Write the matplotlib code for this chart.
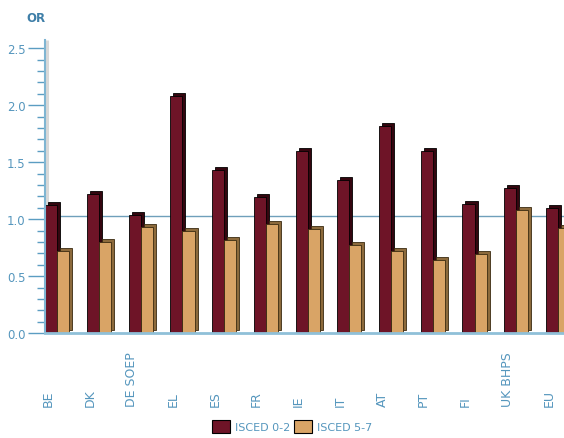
import numpy as np
import matplotlib
matplotlib.use("Agg")
import matplotlib.pyplot as plt
import matplotlib.transforms as mtransforms
from matplotlib.patches import Patch

countries = ["BE", "DK", "DE SOEP", "EL", "ES", "FR", "IE", "IT", "AT", "PT", "FI", "UK BHPS", "EU"]
isced_02 = [1.12, 1.22, 1.04, 2.08, 1.43, 1.19, 1.60, 1.34, 1.82, 1.60, 1.13, 1.27, 1.10]
isced_57 = [0.72, 0.80, 0.93, 0.90, 0.82, 0.96, 0.91, 0.77, 0.72, 0.64, 0.69, 1.08, 0.92]
ref_level = 1.0

maroon = "#6e1427"
maroon_dark = "#34060f"
tan = "#d9a466"
tan_dark = "#8c6a3c"
blue_txt = "#5596bd"
blue_tick = "#5b9dc2"

plt.rcParams["font.family"] = ["DejaVu Sans"]

fig = plt.figure(figsize=(5.64, 4.39), dpi=100)
ax = fig.add_axes([0.080, 0.239, 0.925, 0.667])

x = np.arange(len(countries))
w = 0.29
depth = mtransforms.offset_copy(ax.transData, fig=fig, x=3, y=3, units="dots")

ax.set_xlim(-w, 12.21)
ax.set_ylim(0, 2.57)

# reference line sits in the back plane
ax.plot([-w, 12.3], [ref_level, ref_level], color="#6f9fbb", lw=1, zorder=1,
        transform=depth)

ax.bar(x - w, isced_02, w, align="edge", color=maroon_dark, edgecolor="black",
       lw=0.6, zorder=2, transform=depth)
ax.bar(x - w, isced_02, w, align="edge", color=maroon, edgecolor="black",
       lw=0.6, zorder=3)
ax.bar(x, isced_57, w, align="edge", color=tan_dark, edgecolor="#3a2a10",
       lw=0.6, zorder=4, transform=depth)
ax.bar(x, isced_57, w, align="edge", color=tan, edgecolor="#3a2a10",
       lw=0.6, zorder=5)

ax.set_xlim(-w, 12.21)
ax.set_ylim(0, 2.57)

ax.set_yticks(np.arange(0, 2.51, 0.5))
ax.set_yticklabels(["%.1f" % v for v in np.arange(0, 2.51, 0.5)])
ax.set_yticks(np.arange(0, 2.51, 0.1), minor=True)
ax.tick_params(axis="y", which="major", length=12, width=1, color=blue_tick,
               labelcolor=blue_txt, labelsize=8.5, pad=2)
ax.tick_params(axis="y", which="minor", length=6, width=1, color=blue_tick)
ax.set_xticks([])

for s in ["top", "right"]:
    ax.spines[s].set_visible(False)
ax.spines["left"].set_color("#7fb5d2")
ax.spines["left"].set_linewidth(1.5)
ax.spines["left"].set_zorder(6)
ax.spines["bottom"].set_color("#8fc0d8")
ax.spines["bottom"].set_linewidth(2)
ax.spines["bottom"].set_zorder(6)
# grey shadow of the y axis wall
ax.plot([1.5 / 41.5 - w] * 2, [0, 2.57], color="#d8d8d8", lw=2.2, zorder=0.5,
        solid_capstyle="butt")

for i, c in enumerate(countries):
    ax.text(i - 0.22, -0.249, c, rotation=90, ha="center", va="bottom",
            color=blue_txt, fontsize=9, transform=ax.get_xaxis_transform())

fig.text(0.046, 0.958, "OR", color="#3f7fa8", fontsize=8.5, fontweight="bold",
         ha="left", va="center")

handles = [Patch(facecolor=maroon, edgecolor="black", lw=0.8),
           Patch(facecolor=tan, edgecolor="black", lw=0.8)]
fig.legend(handles, ["ISCED 0-2", "ISCED 5-7"], loc="lower center",
           bbox_to_anchor=(0.518, -0.012), ncol=2, frameon=False, fontsize=8,
           labelcolor=blue_txt, handlelength=1.6, handleheight=1.5,
           handletextpad=0.4, columnspacing=0.4)

fig.savefig("out.png", dpi=100)
